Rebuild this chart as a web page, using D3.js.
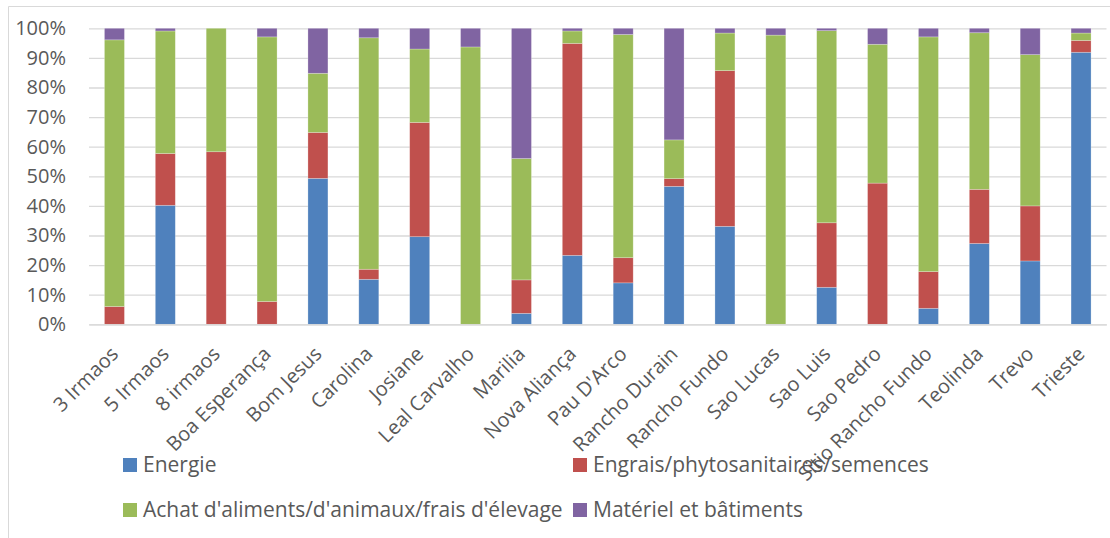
<!DOCTYPE html>
<html><head><meta charset="utf-8">
<script src="https://cdn.jsdelivr.net/npm/d3@7"></script>
<style>
body{margin:0;background:#fff}
svg text{font-family:"Open Sans",sans-serif;fill:#595959}
</style>
</head><body>
<svg id="c" width="1110" height="538"></svg>
<script>
const categories = ["3 Irmaos","5 Irmaos","8 irmaos","Boa Esperança","Bom Jesus","Carolina","Josiane","Leal Carvalho","Marilia","Nova Aliança","Pau D'Arco","Rancho Durain","Rancho Fundo","Sao Lucas","Sao Luis","Sao Pedro","Sitio Rancho Fundo","Teolinda","Trevo","Trieste"];
const energie  = [0, 40.2, 0, 0, 49.3, 15.2, 29.6, 0, 3.7, 23.3, 14.0, 46.6, 33.1, 0, 12.5, 0, 5.4, 27.3, 21.4, 91.9];
const engrais  = [6.0, 17.5, 58.3, 7.7, 15.5, 3.4, 38.6, 0, 11.3, 71.6, 8.5, 2.6, 52.6, 0, 21.8, 47.7, 12.4, 18.3, 18.6, 4.0];
const achat    = [90.1, 41.4, 41.7, 89.4, 20.0, 78.2, 24.8, 93.7, 41.0, 4.2, 75.4, 13.1, 12.7, 97.7, 64.9, 46.9, 79.3, 52.9, 51.1, 2.5];
const materiel = [3.9, 0.9, 0, 2.9, 15.2, 3.2, 7.0, 6.3, 44.0, 0.9, 2.1, 37.7, 1.6, 2.3, 0.8, 5.4, 2.9, 1.5, 8.9, 1.6];
const seriesNames = ["Energie","Engrais/phytosanitaires/semences","Achat d'aliments/d'animaux/frais d'élevage","Matériel et bâtiments"];
const seriesColors = ["#4F81BD","#C0504D","#9BBB59","#8064A2"];
const yTicks = [0,0.1,0.2,0.3,0.4,0.5,0.6,0.7,0.8,0.9,1];

const svg = d3.select("#c");
// chart border
svg.append("path").attr("d","M8.5,538 V6.5 H1110").attr("fill","none").attr("stroke","#d9d9d9").attr("stroke-width",1);

const keys = ["e","r","g","p"];
const rows = categories.map((c,i)=>({cat:c,e:energie[i],r:engrais[i],g:achat[i],p:materiel[i]}));
const stacked = d3.stack().keys(keys).offset(d3.stackOffsetExpand)(rows);

const x = d3.scaleBand().domain(categories).range([89,1106.5]).paddingInner(0.607).paddingOuter(0.3035);
const y = d3.scaleLinear().domain([0,1]).range([324.3,28.3]);

// gridlines + y labels
const yAxis = svg.append("g").attr("transform","translate(89,0)")
  .call(d3.axisLeft(y).tickValues(yTicks).tickSize(-(1106.5-89)).tickPadding(23).tickFormat(d3.format(".0%")));
yAxis.select(".domain").remove();
yAxis.selectAll(".tick line").attr("stroke","#d9d9d9").attr("stroke-width",1.3);
yAxis.selectAll(".tick text").attr("font-size",20).style("font-family","'Open Sans',sans-serif").attr("fill","#595959");

// bars
svg.append("g").selectAll("g").data(stacked).join("g")
  .attr("fill",(d,i)=>seriesColors[i])
  .selectAll("rect").data(d=>d).join("rect")
  .attr("x",d=>x(d.data.cat))
  .attr("width",x.bandwidth())
  .attr("y",d=>y(d[1]))
  .attr("height",d=>Math.max(0,y(d[0])-y(d[1])))
  .attr("stroke","rgba(255,255,255,0.35)").attr("stroke-width",0.7);

// x axis
const xAxis = svg.append("g").attr("transform","translate(0,324.3)")
  .call(d3.axisBottom(x).tickSize(0).tickPadding(0));
xAxis.select(".domain").attr("stroke","#d9d9d9").attr("stroke-width",1.3);
xAxis.selectAll(".tick text")
  .attr("font-size",20).style("font-family","'Open Sans',sans-serif").attr("fill","#595959")
  .attr("text-anchor","end")
  .attr("transform","translate(0,26) rotate(-45)")
  .attr("dy","0.35em").attr("x",0).attr("y",0);

// legend
const legPos = [[123,465],[573,465],[123,510],[573,510]];
const leg = svg.append("g").selectAll("g").data(seriesNames).join("g")
  .attr("transform",(d,i)=>`translate(${legPos[i][0]},${legPos[i][1]})`);
leg.append("rect").attr("x",0).attr("y",-7).attr("width",14).attr("height",14).attr("fill",(d,i)=>seriesColors[i]);
leg.append("text").attr("x",20).attr("y",0).attr("dy","0.35em").attr("font-size",21).text(d=>d);
</script>
</body></html>
